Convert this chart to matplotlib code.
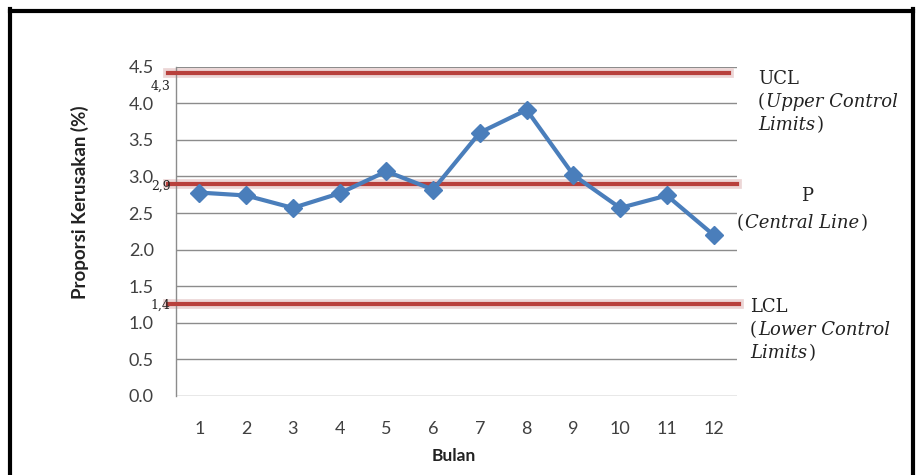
import matplotlib.pyplot as plt
from matplotlib.lines import Line2D

# data
bulan = [1, 2, 3, 4, 5, 6, 7, 8, 9, 10, 11, 12]
proporsi = [2.78, 2.74, 2.57, 2.77, 3.07, 2.82, 3.60, 3.91, 3.02, 2.57, 2.74, 2.20]

# control lines as drawn in the picture, and their printed labels
garis_kontrol = [4.41, 2.90, 1.26]
label_kontrol = ["4,3", "2,9", "1,4"]

yticks = [0.0, 0.5, 1.0, 1.5, 2.0, 2.5, 3.0, 3.5, 4.0, 4.5]

W, H = 916, 475
fig = plt.figure(figsize=(W / 100, H / 100), dpi=100)
ax = fig.add_axes([176 / W, 1 - 396 / H, 561 / W, 329.3 / H])

sans = "Lato"
serif = "DejaVu Serif"
grid_col = "#8c8c8c"
red = "#b8403c"

ax.set_xlim(0.5, 12.5)
ax.set_ylim(0, 4.5)
ax.set_yticks(yticks)
ax.set_yticklabels([f"{v:.1f}" for v in yticks], fontsize=13, family=sans, color="#404040")
ax.set_xticks(bulan)
ax.set_xticklabels([str(b) for b in bulan], fontsize=13, family=sans, color="#404040")
ax.tick_params(axis="both", length=0)
ax.tick_params(axis="y", pad=16)
ax.tick_params(axis="x", pad=18)
ax.yaxis.grid(True, color=grid_col, linewidth=1.0)
ax.set_axisbelow(True)
for s in ["top", "right", "bottom"]:
    ax.spines[s].set_visible(False)
ax.spines["left"].set_color(grid_col)
ax.spines["left"].set_linewidth(1.0)

# control limit lines (with soft shadow)
ujung = [(-0.014, 0.986), (-0.014, 1.0), (-0.014, 1.003)]
for nilai, (x0, x1) in zip(garis_kontrol, ujung):
    ax.axhline(nilai, xmin=x0, xmax=x1, color="#ecd6d6", linewidth=7, clip_on=False, zorder=2)
    ax.axhline(nilai, xmin=x0, xmax=x1, color=red, linewidth=3, clip_on=False, zorder=3)

# small value labels just under each line (offset in points)
geser = [-9, -2, -1]
for nilai, teks, dy in zip(garis_kontrol, label_kontrol, geser):
    ax.annotate(teks, xy=(-0.01, nilai), xycoords=ax.get_yaxis_transform(),
                xytext=(0, dy), textcoords="offset points",
                ha="right", va="center", fontsize=9, family=serif, color="#222222",
                annotation_clip=False)

ax.plot(bulan, proporsi, color="#4a7ebb", linewidth=3, marker="D",
        markersize=9, markerfacecolor="#4a7ebb", markeredgecolor="#4a7ebb", zorder=4)

fig.text(80 / W, 1 - 202 / H, "Proporsi Kerusakan (%)", rotation=90, ha="center", va="center",
         fontsize=13.5, fontweight="bold", family=sans, color="#222222")
fig.text(454 / W, 1 - 456 / H, "Bulan", ha="center", va="center",
         fontsize=12.5, fontweight="bold", family=sans, color="#222222")

# right-hand annotations
kw = dict(fontsize=13, family=serif, color="#222222", va="center")


def tulis_baris(x, y, bagian):
    # bagian: potongan (teks, miring) yang ditulis berurutan dalam satu baris
    teks, miring = bagian[0]
    t = fig.text(x / W, 1 - y / H, teks, ha="left",
                 style="italic" if miring else "normal", **kw)
    for teks, miring in bagian[1:]:
        t = ax.annotate(teks, xy=(1, 0.5), xycoords=t, xytext=(1, 0),
                        textcoords="offset points", ha="left", annotation_clip=False,
                        style="italic" if miring else "normal", **kw)


tulis_baris(758, 79, [("UCL", False)])
tulis_baris(758, 102, [("(", False), ("Upper Control", True)])
tulis_baris(758, 125, [("Limits", True), (")", False)])

fig.text(807 / W, 1 - 196 / H, "P", ha="center", **kw)
tulis_baris(737, 223, [("(", False), ("Central Line", True), (")", False)])

tulis_baris(750, 307, [("LCL", False)])
tulis_baris(750, 330, [("(", False), ("Lower Control", True)])
tulis_baris(750, 353, [("Limits", True), (")", False)])

# black frame (top, left, right)
lw = 3
fig.add_artist(Line2D([10 / W, 913 / W], [1 - 10.5 / H, 1 - 10.5 / H], color="black", linewidth=lw))
fig.add_artist(Line2D([10 / W, 10 / W], [0, 1 - 9 / H], color="black", linewidth=lw))
fig.add_artist(Line2D([913 / W, 913 / W], [0, 1 - 9 / H], color="black", linewidth=lw))

fig.savefig("out.png", dpi=100)
